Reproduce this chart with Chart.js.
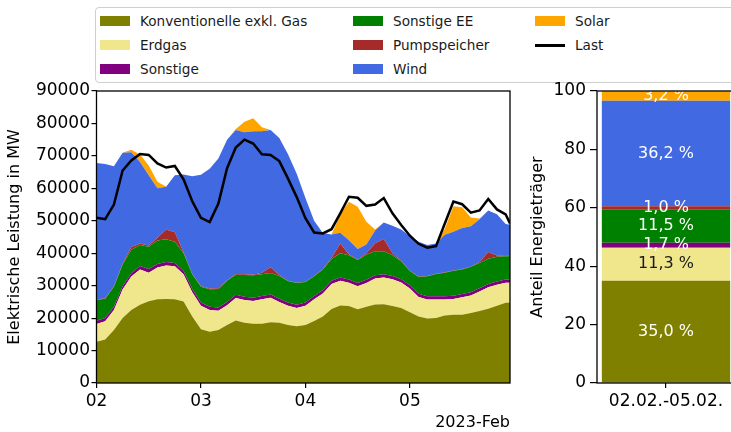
<!DOCTYPE html>
<html>
<head>
<meta charset="utf-8">
<title>Stromerzeugung 02.02.-05.02.2023</title>
<script src="https://cdn.jsdelivr.net/npm/chart.js"></script>
<style>
    html, body { margin: 0; padding: 0; background: #fff; overflow: hidden; }
    body { width: 731px; height: 432px; position: relative; font-family: 'DejaVu Sans', sans-serif; }
    #main { position: absolute; left: 0; top: 0; }
    #share { position: absolute; left: 520px; top: 0; }
    .legend-box { position: absolute; left: 95px; top: 7px; width: 700px; height: 74px; border: 1px solid #cfcfcf; border-radius: 4px; background: #fff; }
    .item { position: absolute; height: 16px; line-height: 16px; font-size: 13.6px; color: #1a1a1a; white-space: nowrap; }
    .patch { display: inline-block; width: 30px; height: 10px; vertical-align: middle; margin-right: 10px; position: relative; top: -1px; }
    .line { display: inline-block; width: 30px; height: 3px; vertical-align: middle; margin-right: 10px; background: #000; position: relative; top: -1px; }
</style>
</head>
<body>
<div class="legend-box"></div>
<div id="legend"></div>
<canvas id="main" width="520" height="432"></canvas>
<canvas id="share" width="240" height="432"></canvas>
<script>
// x in hours since 02.02.2023 00:00
const hours = [0, 2, 4, 6, 8, 10, 12, 14, 16, 18, 20, 22, 24, 26, 28, 30, 32, 34, 36, 38, 40, 42, 44, 46,
    48, 50, 52, 54, 56, 58, 60, 62, 64, 66, 68, 70, 72, 74, 76, 78, 80, 82, 84, 86, 88, 90, 92, 94, 95];
const dayTicks = [0, 24, 48, 72];
const dayLabels = ['02', '03', '04', '05'];
const powerTicks = [0, 10000, 20000, 30000, 40000, 50000, 60000, 70000, 80000, 90000];

// MW, stacked bottom to top
const konv = [12700, 13400, 16300, 20000, 22500, 24100, 25200, 25800, 25900, 25800, 25100, 20500, 16600, 15800, 16300, 17900,
    19300, 18600, 18300, 18300, 18700, 18600, 17900, 17500, 17900, 19100, 20500, 22800, 23900, 23700, 22700, 23500,
    24200, 24300, 23700, 23100, 21800, 20500, 19900, 20000, 20800, 21000, 21000, 21600, 22200, 22900, 23800, 24700, 24800];
const erdgas = [5500, 5600, 6200, 8800, 10300, 10900, 8800, 9800, 10300, 10200, 8400, 7500, 7200, 6700, 6000, 6100,
    6900, 7000, 7000, 7500, 7600, 6400, 5900, 5600, 5900, 6700, 7100, 7700, 7600, 7200, 7100, 7300,
    8000, 8200, 8300, 7900, 7300, 6000, 5800, 5700, 4900, 4900, 5400, 5400, 6000, 6600, 6500, 6200, 6100];
const sonstige = [1000, 1000, 1000, 1000, 1000, 1100, 1100, 1100, 1100, 1000, 1000, 1000, 1000, 1000, 1000, 1000,
    1000, 1000, 1000, 1000, 1000, 1000, 1000, 1000, 1000, 1000, 1000, 1000, 1000, 1000, 1000, 1000,
    1000, 1000, 1000, 1000, 1000, 1000, 1000, 1000, 1000, 1000, 1000, 1000, 1000, 1000, 1000, 1000, 1000];
const sonstigeEE = [6400, 6000, 6200, 6700, 7300, 6400, 6900, 7200, 7000, 6500, 5500, 4500, 4900, 5400, 5700, 6500,
    6200, 6700, 6900, 6700, 6600, 7000, 6600, 6700, 6300, 6100, 6400, 6700, 7500, 7500, 7100, 7700,
    7400, 7100, 6400, 5500, 4400, 5200, 6200, 6900, 7300, 7700, 7600, 7800, 7800, 7800, 7600, 7200, 7200];
const pumpspeicher = [100, 100, 100, 300, 800, 500, 400, 900, 3000, 3000, 300, 100, 200, 200, 200, 200,
    200, 200, 200, 500, 1800, 300, 100, 100, 100, 100, 100, 400, 3000, 300, 200, 500,
    2500, 3800, 600, 200, 100, 100, 100, 100, 100, 100, 100, 100, 300, 2100, 400, 300, 200];
const wind = [42100, 41400, 37000, 34200, 29200, 25100, 21600, 15200, 13200, 17500, 24000, 30100, 34300, 36900, 40000, 43300,
    44400, 43800, 44200, 43600, 42300, 42200, 39000, 33600, 25800, 17000, 11100, 7200, 3300, 4300, 3200, 2700,
    3900, 5100, 8500, 9600, 10600, 10700, 9500, 9300, 11600, 11900, 12700, 12400, 13200, 12800, 12700, 9600, 9500];
const solar = [0, 0, 0, 0, 800, 2300, 3000, 2000, 0, 0, 0, 0, 0, 0, 0, 0,
    300, 3200, 4000, 1200, 0, 0, 0, 0, 0, 0, 0, 0, 5700, 11900, 13000, 7000,
    300, 0, 0, 0, 0, 0, 0, 0, 1800, 7900, 6400, 2700, 200, 0, 0, 0, 0];
const last = [50900, 50500, 55000, 65500, 68600, 70600, 70300, 67700, 66400, 66900, 62800, 56000, 50900, 49600, 55300, 66200,
    72600, 75000, 73800, 70500, 70300, 68400, 63000, 57300, 50800, 46400, 46100, 47400, 52300, 57400, 57100, 54600,
    55000, 57000, 52300, 48700, 45400, 42900, 41700, 42200, 49100, 55900, 55100, 52500, 53200, 56700, 53500, 52000, 49200];

const seriesNames = ['Konventionelle exkl. Gas', 'Erdgas', 'Sonstige', 'Sonstige EE', 'Pumpspeicher', 'Wind', 'Solar'];
const seriesColors = ['#808000', '#f0e68c', '#800080', '#008000', '#a52a2a', '#4169e1', '#ffa500'];
const seriesValues = [konv, erdgas, sonstige, sonstigeEE, pumpspeicher, wind, solar];

// share of energy in percent, same order
const periodLabel = '02.02.-05.02.';
const shares = [35.0, 11.3, 1.7, 11.5, 1.0, 36.2, 3.2];
const shareTicks = [0, 20, 40, 60, 80, 100];
const shareTextColors = ['#fff', '#1a1a1a', '#fff', '#fff', '#fff', '#fff', '#fff'];

Chart.defaults.font.family = "'DejaVu Sans', sans-serif";
Chart.defaults.color = '#000';
const tickFont = { size: 17 };
const titleFont = { size: 16 };

// legend (3 columns, column-major like matplotlib)
const legendItems = seriesNames.map((n, i) => ({ name: n, color: seriesColors[i] }));
legendItems.push({ name: 'Last', line: true });
const colX = [100, 353, 535];
const rowY = [21, 45, 69];
const legend = document.getElementById('legend');
legendItems.forEach((it, i) => {
    const d = document.createElement('div');
    d.className = 'item';
    d.style.left = colX[Math.floor(i / 3)] + 'px';
    d.style.top = (rowY[i % 3] - 8) + 'px';
    const p = document.createElement('span');
    p.className = it.line ? 'line' : 'patch';
    if (!it.line) p.style.background = it.color;
    d.appendChild(p);
    d.appendChild(document.createTextNode(it.name));
    legend.appendChild(d);
});

// box around the plot area, like matplotlib spines
const frame = {
    id: 'frame',
    afterDraw(chart) {
        const a = chart.chartArea, ctx = chart.ctx;
        ctx.save();
        ctx.strokeStyle = '#000';
        ctx.lineWidth = 1.3;
        ctx.strokeRect(a.left, a.top, a.right - a.left, a.bottom - a.top);
        ctx.restore();
    }
};

const pts = vals => hours.map((h, i) => ({ x: h, y: vals[i] }));

const areaSets = seriesValues.map((vals, i) => ({
    label: seriesNames[i],
    data: pts(vals),
    backgroundColor: seriesColors[i],
    borderWidth: 0,
    fill: i === 0 ? 'origin' : '-1',
    stack: 'mix'
}));
areaSets.push({
    label: 'Last',
    data: pts(last),
    borderColor: '#000',
    borderWidth: 2.5,
    fill: false,
    stack: 'last',
    order: -1
});

new Chart(document.getElementById('main'), {
    type: 'line',
    data: { datasets: areaSets },
    options: {
        responsive: false,
        animation: false,
        layout: { padding: { top: 91, right: 10, left: 0, bottom: 0 } },
        plugins: { legend: { display: false }, tooltip: { enabled: false } },
        elements: { point: { radius: 0 }, line: { tension: 0 } },
        scales: {
            x: {
                type: 'linear', min: 0, max: 95,
                afterBuildTicks: s => { s.ticks = dayTicks.map(v => ({ value: v })); },
                afterFit: s => { s.height = 49; },
                ticks: { font: tickFont, padding: 3, maxRotation: 0, autoSkip: false,
                    callback: v => dayLabels[dayTicks.indexOf(v)] },
                grid: { drawOnChartArea: false, tickLength: 5, color: '#000', lineWidth: 1.2 },
                border: { display: false },
                title: { display: true, text: '2023-Feb', align: 'end', font: titleFont, padding: { top: 0, bottom: 0 } }
            },
            y: {
                stacked: true, min: 0, max: 90000,
                afterBuildTicks: s => { s.ticks = powerTicks.map(v => ({ value: v })); },
                afterFit: s => { s.width = 96.5; },
                ticks: { font: tickFont, padding: 1.5, callback: v => String(v) },
                grid: { drawOnChartArea: false, tickLength: 5, color: '#000', lineWidth: 1.2 },
                border: { display: false },
                title: { display: true, text: 'Elektrische Leistung in MW', font: titleFont, padding: { top: 5, bottom: 0 } }
            }
        }
    },
    plugins: [frame]
});

const shareLabels = {
    id: 'shareLabels',
    afterDatasetsDraw(chart) {
        const ctx = chart.ctx, a = chart.chartArea;
        ctx.save();
        ctx.beginPath();
        ctx.rect(a.left, a.top, a.right - a.left, a.bottom - a.top);
        ctx.clip();
        ctx.font = "16px 'DejaVu Sans'";
        ctx.textAlign = 'center';
        ctx.textBaseline = 'middle';
        chart.data.datasets.forEach((d, i) => {
            const bar = chart.getDatasetMeta(i).data[0];
            const { x, y, base } = bar.getProps(['x', 'y', 'base'], true);
            ctx.fillStyle = shareTextColors[i];
            ctx.fillText(d.data[0].toFixed(1).replace('.', ',') + ' %', x, (y + base) / 2);
        });
        ctx.restore();
    }
};

new Chart(document.getElementById('share'), {
    type: 'bar',
    data: {
        labels: [periodLabel],
        datasets: shares.map((v, i) => ({
            label: seriesNames[i],
            data: [v],
            backgroundColor: seriesColors[i],
            barPercentage: 0.93,
            categoryPercentage: 1
        }))
    },
    options: {
        responsive: false,
        animation: false,
        layout: { padding: { top: 91, right: 25, left: 0, bottom: 0 } },
        plugins: { legend: { display: false }, tooltip: { enabled: false } },
        scales: {
            x: {
                stacked: true,
                afterFit: s => { s.height = 49; },
                ticks: { font: tickFont, padding: 3, maxRotation: 0 },
                grid: { drawOnChartArea: false, offset: false, tickLength: 5, color: '#000', lineWidth: 1.2 },
                border: { display: false }
            },
            y: {
                stacked: true, min: 0, max: 100,
                afterBuildTicks: s => { s.ticks = shareTicks.map(v => ({ value: v })); },
                afterFit: s => { s.width = 77; },
                ticks: { font: tickFont, padding: 4 },
                grid: { drawOnChartArea: false, tickLength: 7, color: '#000', lineWidth: 1.2 },
                border: { display: false },
                title: { display: true, text: 'Anteil Energieträger', font: titleFont, padding: { top: 8, bottom: 0 } }
            }
        }
    },
    plugins: [frame, shareLabels]
});
</script>
</body>
</html>
